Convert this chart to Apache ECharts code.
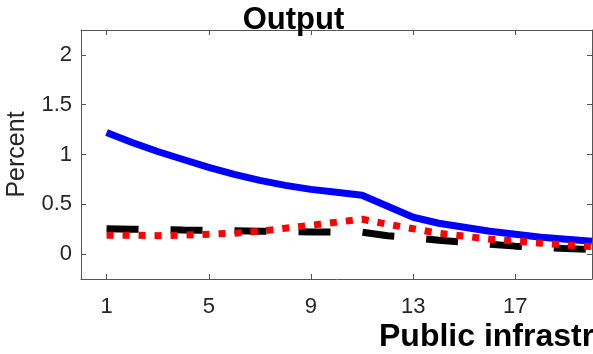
<!DOCTYPE html>
<html>
<head>
<meta charset="utf-8">
<script src="https://cdn.jsdelivr.net/npm/echarts@6/dist/echarts.min.js"></script>
<style>html,body{margin:0;padding:0;background:#fff;}#c{width:593px;height:354px;}</style>
</head>
<body>
<div id="c"></div>
<script>
const horizons = [1,2,3,4,5,6,7,8,9,10,11,12,13,14,15,16,17,18,19,20];
const blueSolid = [1.22,1.12,1.03,0.95,0.87,0.80,0.74,0.69,0.65,0.62,0.59,0.48,0.37,0.31,0.27,0.23,0.20,0.17,0.15,0.13];
const blackDashed = [0.255,0.25,0.245,0.242,0.24,0.235,0.23,0.227,0.223,0.22,0.22,0.185,0.165,0.14,0.12,0.10,0.08,0.068,0.055,0.045];
const redDotted = [0.19,0.19,0.185,0.19,0.20,0.21,0.23,0.26,0.29,0.32,0.35,0.30,0.255,0.21,0.18,0.15,0.13,0.11,0.09,0.075];
const xTicks = [1,5,9,13,17];
const yTicks = [0,0.5,1,1.5,2];
const titleText = 'Output';
const xLabelText = 'Public infrastructure';
const yLabelText = 'Percent';

const FONT = '"Liberation Sans", Arial, Helvetica, sans-serif';
const AXC = '#555555';
const LBC = '#262626';
const pairs = arr => horizons.map((h,i)=>[h, arr[i]]);

const chart = echarts.init(document.getElementById('c'), null, {renderer:'canvas'});
const baseX = {
  type:'value', min:0, max:20,
  axisLine:{show:true, onZero:false, lineStyle:{color:AXC, width:1}},
  axisTick:{show:true, inside:true, length:5, customValues:xTicks, lineStyle:{color:AXC}},
  splitLine:{show:false}
};
const baseY = {
  type:'value', min:-0.25, max:2.25,
  axisLine:{show:true, onZero:false, lineStyle:{color:AXC, width:1}},
  axisTick:{show:true, inside:true, length:5, customValues:yTicks, lineStyle:{color:AXC}},
  splitLine:{show:false}
};
chart.setOption({
  animation:false,
  grid:{left:81, right:1, top:30, bottom:75},
  xAxis:[
    Object.assign({}, baseX, {position:'bottom',
      axisLabel:{show:true, customValues:xTicks, margin:17, color:LBC, fontSize:22, fontFamily:FONT}}),
    Object.assign({}, baseX, {position:'top', axisLabel:{show:false}})
  ],
  yAxis:[
    Object.assign({}, baseY, {position:'left',
      axisLabel:{show:true, customValues:yTicks, margin:9, padding:[5,0,0,0], color:LBC, fontSize:22, fontFamily:FONT}}),
    Object.assign({}, baseY, {position:'right', axisLabel:{show:false}})
  ],
  series:[
    {type:'line', data:pairs(blueSolid), showSymbol:false, z:2,
      lineStyle:{color:'#0000ff', width:7, type:'solid', cap:'butt', join:'round'}},
    {type:'line', data:pairs(blackDashed), showSymbol:false, z:3,
      lineStyle:{color:'#000000', width:7, type:[32,32], cap:'butt'}},
    {type:'line', data:pairs(redDotted), showSymbol:false, z:4,
      lineStyle:{color:'#ff0000', width:7, type:[7,9], cap:'butt'}}
  ],
  graphic:[
    {type:'text', x:242.7, y:20, z:100,
      style:{text:titleText, fill:'#000', font:'bold 31px '+FONT, align:'left', verticalAlign:'middle'}},
    {type:'text', x:379, y:337.5, z:100,
      style:{text:xLabelText, fill:'#000', font:'bold 32px '+FONT, align:'left', verticalAlign:'middle'}},
    {type:'text', x:17.5, y:154.5, rotation:Math.PI/2, z:100,
      style:{text:yLabelText, fill:LBC, font:'25px '+FONT, align:'center', verticalAlign:'middle'}}
  ]
});
</script>
</body>
</html>
